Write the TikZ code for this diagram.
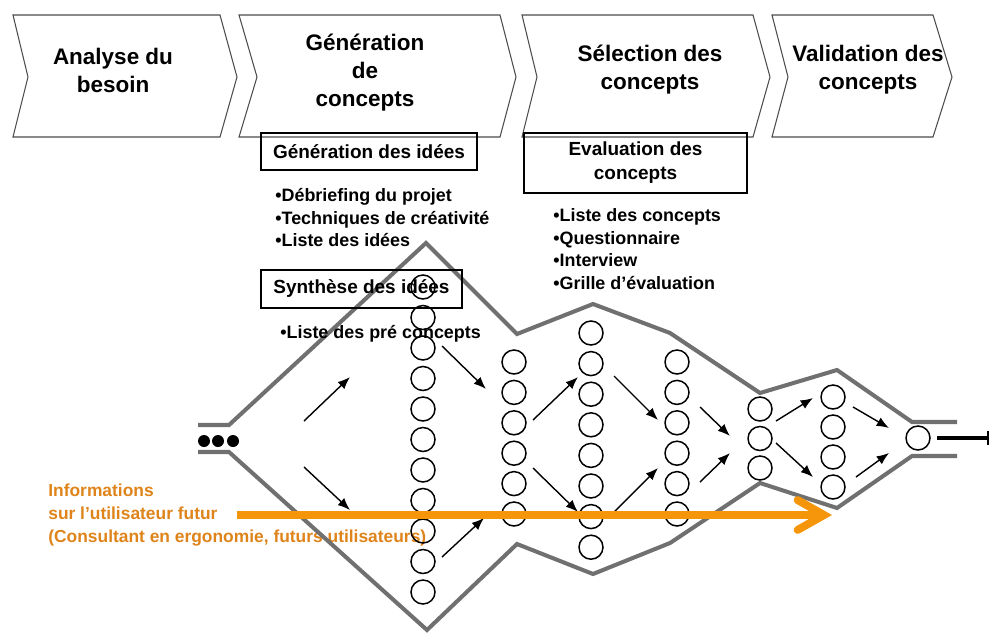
\documentclass[tikz,border=0pt]{standalone}
\usepackage{fontspec}
\setmainfont{Liberation Sans}
\usetikzlibrary{arrows.meta}
\definecolor{funnelgray}{RGB}{112,112,112}
\definecolor{infoorange}{RGB}{245,150,10}
\definecolor{infotext}{RGB}{222,132,26}

\begin{document}
\begin{tikzpicture}[x=0.02cm,y=-0.02cm,
  chevron/.style={draw=black!70, line width=0.6pt},
  phase/.style={font=\fontsize{12.8}{15.9}\selectfont\bfseries, align=center, inner sep=0pt},
  titlebox/.style={draw, line width=0.9pt, font=\fontsize{10.8}{13.6}\selectfont\bfseries, align=center, inner sep=0pt},
  items/.style={font=\fontsize{10.2}{12.8}\selectfont\bfseries, align=left, anchor=west, inner sep=0pt},
  infolabel/.style={font=\fontsize{9.9}{13}\selectfont\bfseries, text=infotext, align=left, anchor=west, inner sep=0pt},
  outline/.style={draw=funnelgray, line width=2.3pt, line join=miter},
  idea/.style={circle, draw, line width=0.85pt, minimum size=0.48cm, inner sep=0pt},
  dot/.style={circle, fill=black, minimum size=0.24cm, inner sep=0pt},
  flow/.style={-{Latex[length=7pt,width=5.5pt]}, line width=0.8pt},
  infoflow/.style={draw=infoorange, line width=4.5pt, -{Straight Barb[length=15pt,width=17pt,line cap=round]}},
  outflow/.style={line width=2.8pt, -{Bar[width=8.5pt,line width=1.2pt]}}]

\useasboundingbox (0,0) rectangle (990,632);

% ---- phase chevrons ----
\draw[chevron] (13,15) -- (220,15) -- (237,77) -- (220,137) -- (13,137) -- (28,77) -- cycle;
\draw[chevron] (239,15) -- (500,15) -- (516,77) -- (500,137) -- (239,137) -- (257,77) -- cycle;
\draw[chevron] (522,15) -- (753,15) -- (770,77) -- (753,137) -- (522,137) -- (537,77) -- cycle;
\draw[chevron] (772,15) -- (933,15) -- (952,77) -- (933,137) -- (772,137) -- (788,77) -- cycle;
\node[phase] (p1) at (113,70) {Analyse du\\besoin};
\node[phase] (p2) at (365,73) {Génération\\de\\concepts};
\node[phase] (p3) at (650,70) {Sélection des\\concepts};
\node[phase] (p4) at (868,70) {Validation des\\concepts};

% ---- user information label ----
\node[infolabel] (info) at (48,515) {Informations\\sur l'utilisateur futur\\(Consultant en ergonomie, futurs utilisateurs)};

% ---- funnel outline ----
\draw[outline] (198,425) -- (229,425) -- (426,243) -- (517,334) -- (593,304) -- (670,333)
  -- (760,393) -- (837,370) -- (912,422) -- (957,422);
\draw[outline] (198,452) -- (229,452) -- (427,630) -- (517,544) -- (593,574) -- (670,543)
  -- (760,483) -- (837,508) -- (912,456) -- (957,456);

% ---- input dots ----
\node[dot] (d1) at (204,441) {};
\node[dot] (d2) at (218,441) {};
\node[dot] (d3) at (233,441) {};

% ---- concept columns ----
\foreach \k in {0,...,10} \node[idea] (a\k) at (423,287+30.5*\k) {};
\foreach \k in {0,...,5}  \node[idea] (b\k) at (514,362+30.4*\k) {};
\foreach \k in {0,...,7}  \node[idea] (c\k) at (591,333+30.6*\k) {};
\foreach \k in {0,...,5}  \node[idea] (e\k) at (677,362+30.4*\k) {};
\foreach \k in {0,...,2}  \node[idea] (f\k) at (760,409+29.5*\k) {};
\foreach \k in {0,...,3}  \node[idea] (g\k) at (833,397+30*\k) {};
\node[idea] (fin) at (918,438) {};

% ---- flow arrows between columns ----
\foreach \n/\xa/\ya/\xb/\yb in {
   1/304/421/350/377,  2/304/467/350/510,  3/442/346/486/389,  4/442/557/484/518,
   5/533/420/578/377,  6/533/468/578/512,  7/614/376/658/420,  8/614/512/658/468,
   9/700/407/730/436, 10/700/482/730/453, 11/776/421/813/398, 12/776/443/813/477,
  13/853/407/889/428, 14/856/477/889/453} {
  \coordinate (s\n) at (\xa,\ya);
  \coordinate (t\n) at (\xb,\yb);
  \draw[flow] (s\n) -- (t\n);
}

% ---- output ----
\coordinate (out) at (989,438);
\draw[outflow] (fin.east) ++(6,0) coordinate (outstart) -- (out);

% ---- activity boxes and lists ----
\node[titlebox, minimum width=4.32cm, minimum height=0.74cm] (gen) at (369,151.5) {Génération des idées};
\node[items] (genlist) at (275,218) {•Débriefing du projet\\•Techniques de créativité\\•Liste des idées};
\node[titlebox, minimum width=4.02cm, minimum height=0.76cm] (syn) at (361.5,289) {Synthèse des idées};
\node[items] (synlist) at (280,334) {•Liste des pré concepts};
\node[titlebox, minimum width=4.46cm, minimum height=1.2cm] (eval) at (635.5,163) {Evaluation des\\concepts};
\node[items] (evallist) at (553,249) {•Liste des concepts\\•Questionnaire\\•Interview\\•Grille d'évaluation};

% ---- user information arrow ----
\coordinate (infostart) at (237,515);
\coordinate (infoend) at (832,515);
\draw[infoflow] (infostart) -- (infoend);

\end{tikzpicture}
\end{document}
